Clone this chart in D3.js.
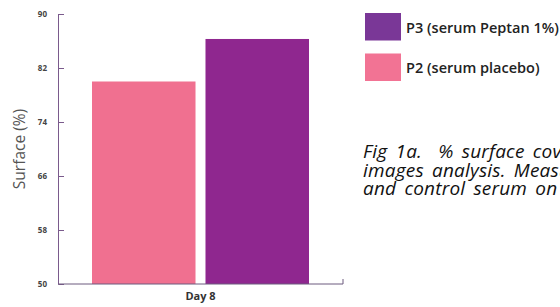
<!DOCTYPE html>
<html>
<head>
<meta charset="utf-8">
<script src="https://cdn.jsdelivr.net/npm/d3@7"></script>
<style>
  body { margin: 0; background: #fff; overflow: hidden; }
  svg text { font-family: "Open Sans", sans-serif; }
</style>
</head>
<body>
<div id="chart"></div>
<script>
var days = ["Day 8"];
var series = ["P2 (serum placebo)", "P3 (serum Peptan 1%)"];
var values = [80, 86.3];
var yTicks = [50, 58, 66, 74, 82, 90];
var legendOrder = ["P3 (serum Peptan 1%)", "P2 (serum placebo)"];
var captionLines = [
  "Fig 1a.  % surface covered by wrinkles",
  "images analysis. Measurements",
  "and control serum on day 8"
];

function init() {
    var w = 560;
    var h = 307;
    var left = 58, right = 343, top = 14, bottom = 284;

    var colors = d3.scaleOrdinal()
        .domain(series)
        .range(["#f07090", "#8f278f"]);
    var legendColors = d3.scaleOrdinal()
        .domain(series)
        .range(["#f27394", "#7a3797"]);

    var svg = d3.select("#chart")
        .append("svg")
        .attr("width", w)
        .attr("height", h);

    var x0 = d3.scaleBand()
        .domain(days)
        .range([left, right])
        .paddingOuter(0.1567);

    var x1 = d3.scaleBand()
        .domain(series)
        .range([0, x0.bandwidth()])
        .paddingInner(0.088);

    var yScale = d3.scaleLinear()
        .domain([50, 90])
        .range([bottom, top]);

    // bars
    var groups = svg.selectAll("g.day")
        .data(days)
        .enter().append("g")
        .attr("class", "day")
        .attr("transform", function(d) { return "translate(" + x0(d) + ",0)"; });

    groups.selectAll("rect")
        .data(function() { return series.map(function(s, i) { return {s: s, v: values[i]}; }); })
        .enter().append("rect")
        .attr("x", function(d) { return x1(d.s); })
        .attr("y", function(d) { return yScale(d.v); })
        .attr("width", x1.bandwidth())
        .attr("height", function(d) { return yScale(50) - yScale(d.v); })
        .attr("fill", function(d) { return colors(d.s); });

    // y axis
    var yAxis = d3.axisLeft(yScale)
        .tickValues(yTicks)
        .tickSize(-6)
        .tickPadding(11)
        .tickFormat(d3.format("d"));

    var gy = svg.append("g")
        .attr("transform", "translate(" + left + ",0)")
        .call(yAxis);
    gy.select(".domain").attr("stroke", "#7a5a8c").attr("stroke-width", 1);
    gy.selectAll(".tick line").attr("stroke", "#7a5a8c");
    gy.selectAll(".tick").filter(function(d) { return d === 50; }).select("line").remove();
    gy.selectAll(".tick text")
        .attr("fill", "#444")
        .style("font-size", "8px")
        .style("font-weight", "bold");

    // x axis
    var xAxis = d3.axisBottom(x0)
        .tickSize(0)
        .tickPadding(8);
    var gx = svg.append("g")
        .attr("transform", "translate(0," + bottom + ")")
        .call(xAxis);
    gx.select(".domain").remove();
    gx.append("path")
        .attr("d", "M" + left + ",0H" + right + "V-5")
        .attr("fill", "none")
        .attr("stroke", "#6d5a7e");
    gx.selectAll(".tick text")
        .attr("fill", "#333")
        .style("font-size", "11px")
        .style("font-weight", "bold");

    // y title
    svg.append("text")
        .attr("transform", "translate(25," + ((top + bottom) / 2) + ") rotate(-90)")
        .attr("text-anchor", "middle")
        .attr("fill", "#555")
        .style("font-size", "15.5px")
        .style("font-weight", "400")
        .text("Surface (%)");

    // legend
    var legend = svg.selectAll("g.legend")
        .data(legendOrder)
        .enter().append("g")
        .attr("class", "legend")
        .attr("transform", function(d, i) { return "translate(365," + (13 + i * 40.5) + ")"; });
    legend.append("rect")
        .attr("width", 36)
        .attr("height", 27.5)
        .attr("fill", function(d) { return legendColors(d); });
    legend.append("text")
        .attr("x", 41)
        .attr("y", 19.5)
        .attr("fill", "#222")
        .style("font-size", "14.5px")
        .style("font-weight", "600")
        .text(function(d) { return d; });

    // caption
    svg.append("g").selectAll("text")
        .data(captionLines)
        .enter().append("text")
        .attr("x", 363)
        .attr("y", function(d, i) { return 158 + i * 18.5; })
        .attr("fill", "#111")
        .style("font-size", "19px")
        .style("font-style", "italic")
        .style("letter-spacing", "0.2px")
        .style("word-spacing", "3px")
        .style("white-space", "pre")
        .text(function(d) { return d; });
}

window.onload = init;
</script>
</body>
</html>
